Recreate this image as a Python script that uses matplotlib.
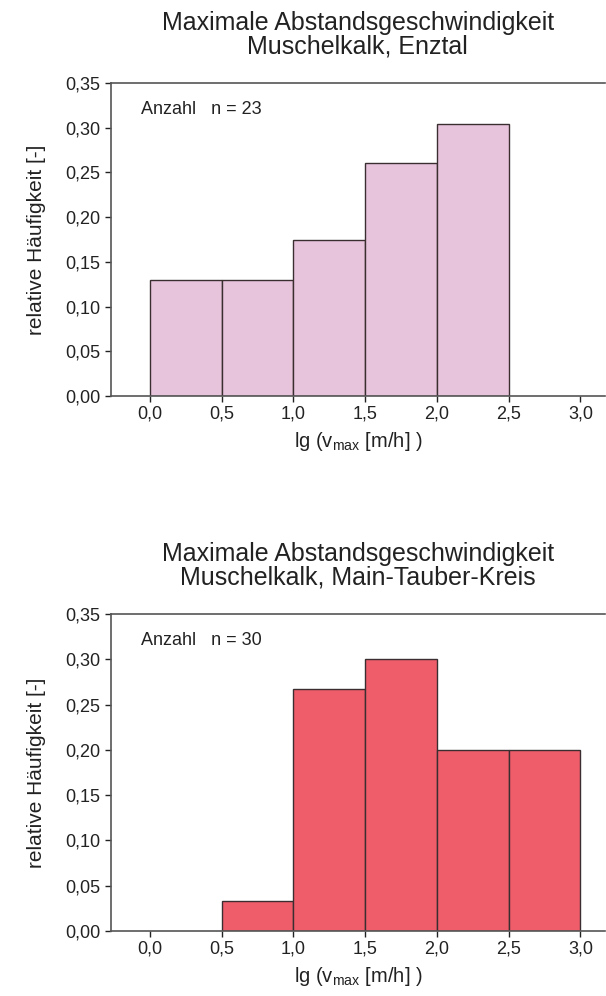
import matplotlib
matplotlib.use('Agg')
import numpy as np
import matplotlib.pyplot as plt
from matplotlib.ticker import FuncFormatter

plt.rcParams['font.family'] = ['Liberation Sans', 'DejaVu Sans']
plt.rcParams['mathtext.default'] = 'regular'

# class bins of lg(v_max)
bin_left = [0.0, 0.5, 1.0, 1.5, 2.0]
bin_left_mt = [0.5, 1.0, 1.5, 2.0, 2.5]
bin_width = 0.5

# relative frequencies
freq_enztal = [0.130, 0.130, 0.174, 0.261, 0.304]
freq_maintauber = [0.033, 0.267, 0.300, 0.200, 0.200]
n_enztal = 23
n_maintauber = 30

titles = ["Maximale Abstandsgeschwindigkeit\nMuschelkalk, Enztal",
          "Maximale Abstandsgeschwindigkeit\nMuschelkalk, Main-Tauber-Kreis"]
xticks = [0.0, 0.5, 1.0, 1.5, 2.0, 2.5, 3.0]
yticks = [0.0, 0.05, 0.10, 0.15, 0.20, 0.25, 0.30, 0.35]

fig = plt.figure(figsize=(6.06, 9.96), dpi=100)

comma2 = FuncFormatter(lambda v, p: f"{v:.2f}".replace('.', ','))
comma1 = FuncFormatter(lambda v, p: f"{v:.1f}".replace('.', ','))

panels = [
    ([0.183, 0.6024, 0.815, 0.3143], bin_left, freq_enztal, n_enztal, '#e8c4dc', titles[0]),
    ([0.183, 0.0653, 0.815, 0.3183], bin_left_mt, freq_maintauber, n_maintauber, '#ef5d6b', titles[1]),
]

for rect, left, freq, n, color, title in panels:
    ax = fig.add_axes(rect)
    ax.bar(left, freq, width=bin_width, align='edge', color=color,
           edgecolor='#3a2e30', linewidth=1.0)
    ax.set_xlim(-0.272, 3.17)
    ax.set_ylim(0, 0.35)
    ax.set_xticks(xticks)
    ax.set_yticks(yticks)
    ax.xaxis.set_major_formatter(comma1)
    ax.yaxis.set_major_formatter(comma2)
    ax.tick_params(labelsize=13, colors='#222222', length=4, width=1)
    ax.tick_params(axis='x', pad=3)
    for s in ['left', 'bottom', 'top']:
        ax.spines[s].set_color('#555555')
        ax.spines[s].set_linewidth(1.2)
    ax.spines['right'].set_visible(False)
    ax.set_xlabel(r'lg (v$_{max}$ [m/h] )', fontsize=14.5, labelpad=5, color='#222222')
    ax.set_ylabel('relative Häufigkeit [-]', fontsize=15, labelpad=14, color='#222222')
    ax.set_title(title, fontsize=18, pad=21, color='#222222', linespacing=1.0)
    ax.text(0.06, 0.915, f"Anzahl   n = {n}", transform=ax.transAxes,
            fontsize=13, va='center', ha='left', color='#222222')

fig.savefig('out.png', dpi=100)
